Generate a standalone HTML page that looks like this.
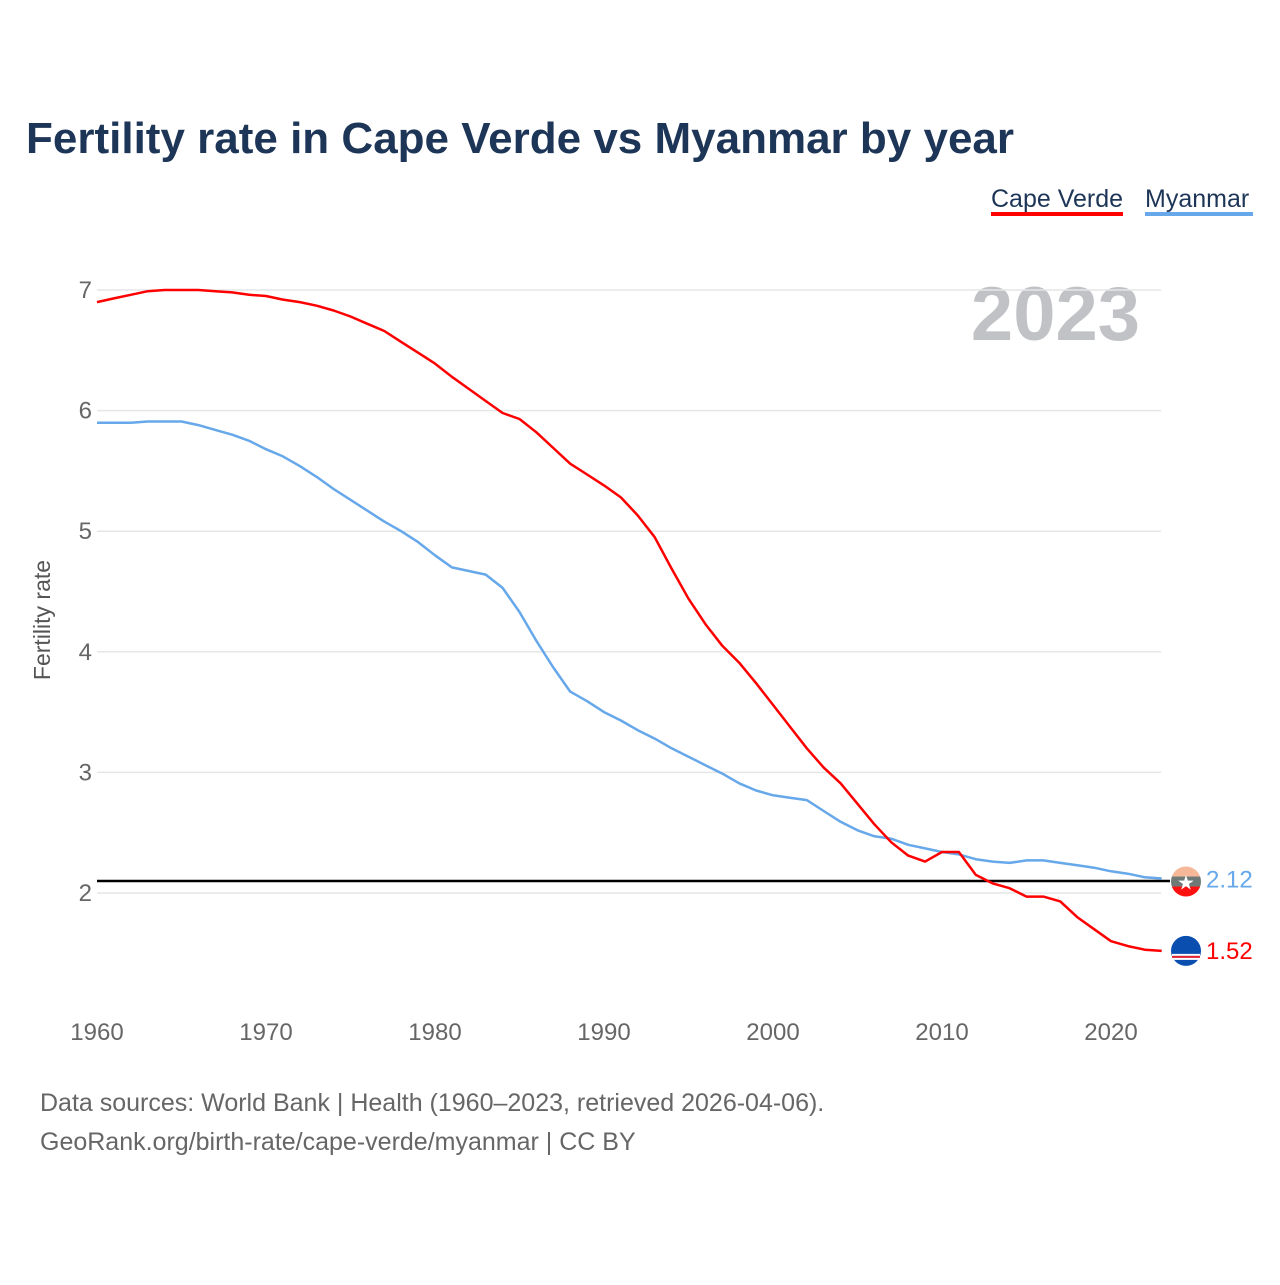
<!DOCTYPE html>
<html><head><meta charset="utf-8"><style>
body{margin:0;background:#fff;width:1280px;height:1280px;overflow:hidden;font-family:"Liberation Sans",sans-serif}
</style></head><body>
<svg id="chart" width="1280" height="1280" xmlns="http://www.w3.org/2000/svg">
<text x="26" y="153" font-size="44" font-weight="bold" fill="#1d3557">Fertility rate in Cape Verde vs Myanmar by year</text>
<g>
<text x="991" y="207" font-size="25" fill="#1d3557">Cape Verde</text>
<rect x="991" y="212" width="132" height="4" fill="#ff0000"/>
<text x="1145" y="207" font-size="25" fill="#1d3557">Myanmar</text>
<rect x="1145" y="212" width="108" height="4" fill="#66a8ea"/>
</g>
<text x="1140" y="340" text-anchor="end" font-size="76" font-weight="bold" fill="#c0c2c5">2023</text>
<text transform="translate(50,620) rotate(-90)" text-anchor="middle" font-size="23" fill="#555">Fertility rate</text>
<g id="grid"></g><g id="lines"></g><g id="labels"></g>
<text x="40" y="1111" font-size="25" fill="#666">Data sources: World Bank | Health (1960–2023, retrieved 2026-04-06).</text>
<text x="40" y="1150" font-size="25" fill="#666">GeoRank.org/birth-rate/cape-verde/myanmar | CC BY</text>
</svg>
<script>
const years=[];for(let y=1960;y<=2023;y++)years.push(y);
const capeVerde=[6.9,6.93,6.96,6.99,7.0,7.0,7.0,6.99,6.98,6.96,6.95,6.92,6.9,6.87,6.83,6.78,6.72,6.66,6.57,6.48,6.39,6.28,6.18,6.08,5.98,5.93,5.82,5.69,5.56,5.47,5.38,5.28,5.13,4.95,4.69,4.44,4.23,4.05,3.91,3.74,3.56,3.38,3.2,3.04,2.91,2.74,2.57,2.42,2.31,2.26,2.34,2.34,2.15,2.08,2.04,1.97,1.97,1.93,1.8,1.7,1.6,1.56,1.53,1.52];
const myanmar=[5.9,5.9,5.9,5.91,5.91,5.91,5.88,5.84,5.8,5.75,5.68,5.62,5.54,5.45,5.35,5.26,5.17,5.08,5.0,4.91,4.8,4.7,4.67,4.64,4.53,4.33,4.09,3.87,3.67,3.59,3.5,3.43,3.35,3.28,3.2,3.13,3.06,2.99,2.91,2.85,2.81,2.79,2.77,2.68,2.59,2.52,2.47,2.45,2.4,2.37,2.34,2.32,2.28,2.26,2.25,2.27,2.27,2.25,2.23,2.21,2.18,2.16,2.13,2.12];
const yTicks=[2,3,4,5,6,7];
const xTicks=[1960,1970,1980,1990,2000,2010,2020];
const refValue=2.1;
const NS="http://www.w3.org/2000/svg";
const X=y=>97+(y-1960)*1014/60;
const Y=v=>893-(v-2)*120.6;
function mk(tag,attrs,parent,txt){const e=document.createElementNS(NS,tag);for(const k in attrs)e.setAttribute(k,attrs[k]);if(txt!=null)e.textContent=txt;parent.appendChild(e);return e;}
const grid=document.getElementById('grid'),lines=document.getElementById('lines'),labels=document.getElementById('labels');
yTicks.forEach(t=>{
 const l=mk('line',{x1:97,x2:1161,y1:Y(t),y2:Y(t),stroke:'#e6e6e6','stroke-width':1.5},grid);
 
 
 const tx=mk('text',{x:92,y:Y(t)+8,'text-anchor':'end','font-size':24,fill:'#666'},grid,t);
 
 
});
xTicks.forEach(t=>{
 const tx=mk('text',{x:X(t),y:1040,'text-anchor':'middle','font-size':24,fill:'#666'},grid,t);
 
 
});
const ref=mk('line',{x1:97,x2:1170,y1:Y(refValue),y2:Y(refValue),stroke:'#000','stroke-width':2.5},lines);


function series(vals,color,name){
 const d=vals.map((v,i)=>(i?'L':'M')+X(years[i]).toFixed(1)+','+Y(v).toFixed(1)).join(' ');
 const p=mk('path',{d:d,fill:'none',stroke:color,'stroke-width':2.5,'stroke-linejoin':'round'},lines);
 
 
}
series(myanmar,'#66a8ea','myanmar');
series(capeVerde,'#ff0000','cape-verde');
const lx=X(2023);
// Myanmar marker
const ym=Y(myanmar[myanmar.length-1]);
const gm=mk('g',{},labels);


mk('clipPath',{id:'cm'},gm).appendChild(document.createElementNS(NS,'circle'));
const cmc=gm.querySelector('clipPath circle');cmc.setAttribute('cx',1186);cmc.setAttribute('cy',ym+3);cmc.setAttribute('r',15);
const gmc=mk('g',{'clip-path':'url(#cm)'},gm);
mk('rect',{x:1170,y:ym-12,width:32,height:10,fill:'#f7b89a'},gmc);
mk('rect',{x:1170,y:ym-2,width:32,height:10,fill:'#6f7a76'},gmc);
mk('rect',{x:1170,y:ym+8,width:32,height:12,fill:'#ff1010'},gmc);
mk('text',{x:1186,y:ym+11,'text-anchor':'middle','font-size':20,fill:'#fff'},gm,'★');
const tm=mk('text',{x:1206,y:ym+9,'font-size':24,fill:'#66a8ea'},labels,myanmar[myanmar.length-1].toFixed(2));


// Cape Verde marker
const yc=Y(capeVerde[capeVerde.length-1]);
const gc=mk('g',{},labels);


mk('circle',{cx:1186,cy:yc,r:15,fill:'#0a4fb0'},gc);
mk('rect',{x:1172,y:yc+3,width:28,height:2,fill:'#fff'},gc);
mk('rect',{x:1172,y:yc+5,width:28,height:2,fill:'#e8202a'},gc);
mk('rect',{x:1172,y:yc+7,width:28,height:2,fill:'#fff'},gc);
const tc=mk('text',{x:1206,y:yc+8,'font-size':24,fill:'#ff0000'},labels,capeVerde[capeVerde.length-1].toFixed(2));


</script>
</body></html>
